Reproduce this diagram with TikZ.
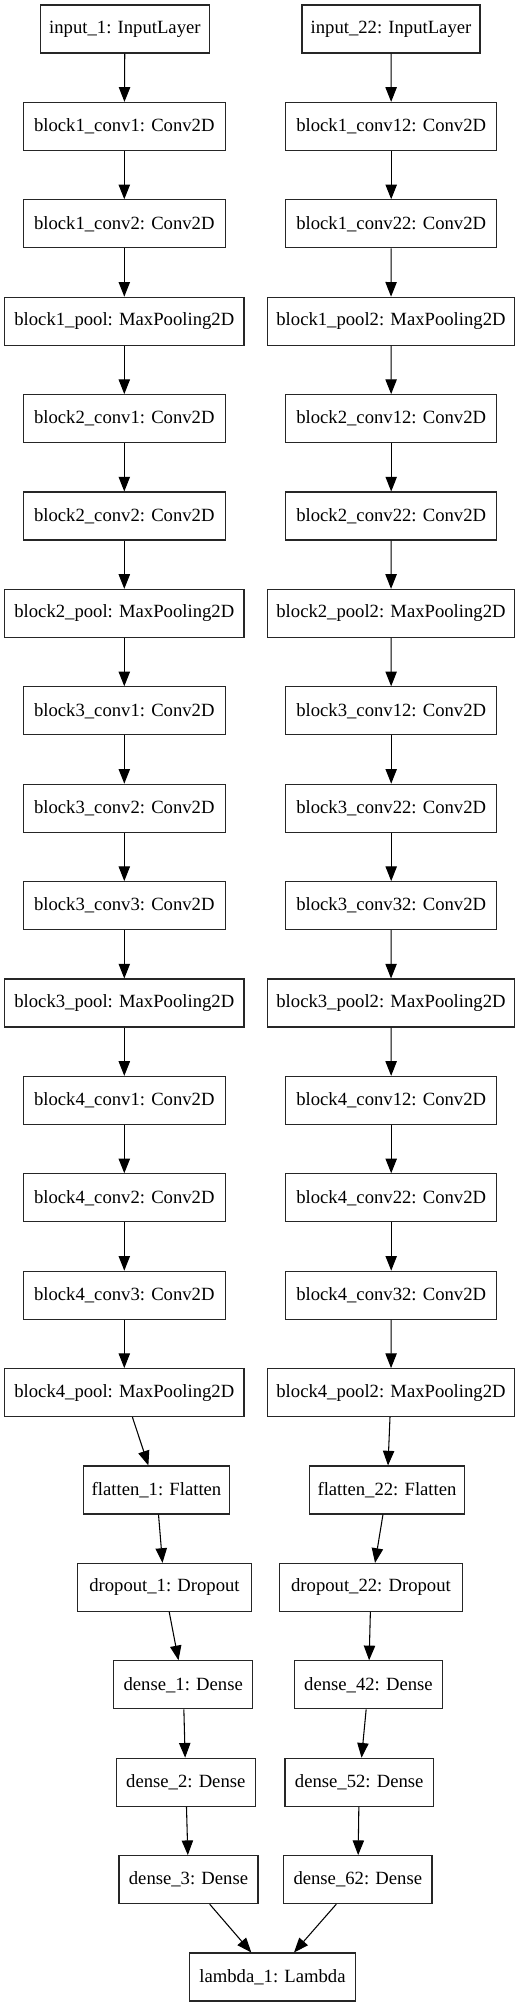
\documentclass[tikz,border=0pt]{standalone}
\usepackage{fontspec}
\setmainfont{Liberation Serif}
\usetikzlibrary{arrows.meta}
\begin{document}
\begin{tikzpicture}[x=0.75pt,y=-0.75pt,
  box/.style={draw=black!85, line width=0.8pt, minimum height=36pt, inner sep=0pt, font=\fontsize{14}{16}\selectfont},
  inL/.style={box, minimum width=126.2pt},
  convL/.style={box, minimum width=151.5pt},
  poolL/.style={box, minimum width=179.5pt},
  inR/.style={box, minimum width=133.5pt},
  convR/.style={box, minimum width=158.25pt},
  poolR/.style={box, minimum width=185pt},
  edge/.style={line width=0.8pt, -{Triangle[length=11pt,width=8.5pt]}}]
\useasboundingbox (0,0) rectangle (520,2007);
% left column
\node[inL]  (l0)  at (124.9,29)    {input\_1: InputLayer};
\node[convL] (l1) at (124.3,126.4) {block1\_conv1: Conv2D};
\node[convL] (l2) at (124.3,223.8) {block1\_conv2: Conv2D};
\node[poolL] (l3) at (124.3,321.2) {block1\_pool: MaxPooling2D};
\node[convL] (l4) at (124.3,418.6) {block2\_conv1: Conv2D};
\node[convL] (l5) at (124.3,516)   {block2\_conv2: Conv2D};
\node[poolL] (l6) at (124.3,613.4) {block2\_pool: MaxPooling2D};
\node[convL] (l7) at (124.3,710.8) {block3\_conv1: Conv2D};
\node[convL] (l8) at (124.3,808.2) {block3\_conv2: Conv2D};
\node[convL] (l9) at (124.3,905.6) {block3\_conv3: Conv2D};
\node[poolL] (l10) at (124.3,1003) {block3\_pool: MaxPooling2D};
\node[convL] (l11) at (124.3,1100.4) {block4\_conv1: Conv2D};
\node[convL] (l12) at (124.3,1197.8) {block4\_conv2: Conv2D};
\node[convL] (l13) at (124.3,1295.2) {block4\_conv3: Conv2D};
\node[poolL] (l14) at (124.3,1392.6) {block4\_pool: MaxPooling2D};
\node[box, minimum width=109.2pt] (l15) at (156.5,1490) {flatten\_1: Flatten};
\node[box, minimum width=130.2pt] (l16) at (164.5,1587.4) {dropout\_1: Dropout};
\node[box, minimum width=104.25pt] (l17) at (183.2,1684.8) {dense\_1: Dense};
\node[box, minimum width=104.25pt] (l18) at (185.8,1782.2) {dense\_2: Dense};
\node[box, minimum width=104.25pt] (l19) at (188.5,1879.6) {dense\_3: Dense};
% right column
\node[inR]  (r0)  at (391,29)      {input\_22: InputLayer};
\node[convR] (r1) at (391.2,126.4) {block1\_conv12: Conv2D};
\node[convR] (r2) at (391.2,223.8) {block1\_conv22: Conv2D};
\node[poolR] (r3) at (391,321.2)   {block1\_pool2: MaxPooling2D};
\node[convR] (r4) at (391.2,418.6) {block2\_conv12: Conv2D};
\node[convR] (r5) at (391.2,516)   {block2\_conv22: Conv2D};
\node[poolR] (r6) at (391,613.4)   {block2\_pool2: MaxPooling2D};
\node[convR] (r7) at (391.2,710.8) {block3\_conv12: Conv2D};
\node[convR] (r8) at (391.2,808.2) {block3\_conv22: Conv2D};
\node[convR] (r9) at (391.2,905.6) {block3\_conv32: Conv2D};
\node[poolR] (r10) at (391,1003)   {block3\_pool2: MaxPooling2D};
\node[convR] (r11) at (391.2,1100.4) {block4\_conv12: Conv2D};
\node[convR] (r12) at (391.2,1197.8) {block4\_conv22: Conv2D};
\node[convR] (r13) at (391.2,1295.2) {block4\_conv32: Conv2D};
\node[poolR] (r14) at (391,1392.6) {block4\_pool2: MaxPooling2D};
\node[box, minimum width=116pt] (r15) at (387,1490) {flatten\_22: Flatten};
\node[box, minimum width=137.5pt] (r16) at (371,1587.4) {dropout\_22: Dropout};
\node[box, minimum width=111.3pt] (r17) at (368.5,1684.8) {dense\_42: Dense};
\node[box, minimum width=111.3pt] (r18) at (359.2,1782.2) {dense\_52: Dense};
\node[box, minimum width=111.3pt] (r19) at (357.8,1879.6) {dense\_62: Dense};
% merge
\node[box, minimum width=124.2pt] (lam) at (272.5,1977) {lambda\_1: Lambda};
% edges
\foreach \a/\b in {0/1,1/2,2/3,3/4,4/5,5/6,6/7,7/8,8/9,9/10,10/11,11/12,12/13,13/14,14/15,15/16,16/17,17/18,18/19} {
  \draw[edge] (l\a) -- (l\b);
  \draw[edge] (r\a) -- (r\b);
}
\draw[edge] (l19) -- (lam);
\draw[edge] (r19) -- (lam);
\end{tikzpicture}
\end{document}
